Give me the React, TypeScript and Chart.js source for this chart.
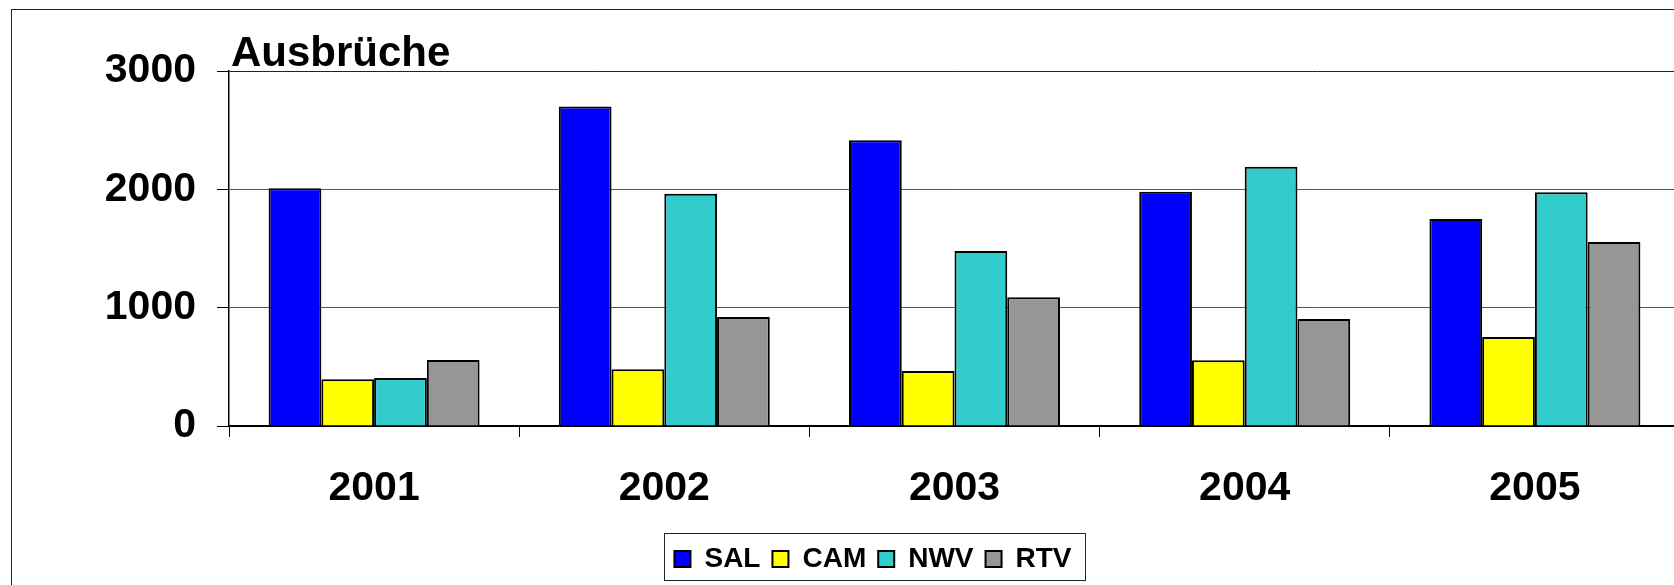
import React, { useEffect, useRef } from "react";
import { Chart, registerables } from "chart.js";

Chart.register(...registerables);

const years = ["2001", "2002", "2003", "2004", "2005"];
const seriesNames = ["SAL", "CAM", "NWV", "RTV"];
const salValues = [2010, 2700, 2415, 1980, 1750];
const camValues = [395, 480, 465, 555, 752];
const nwvValues = [405, 1962, 1478, 2190, 1976];
const rtvValues = [558, 921, 1087, 905, 1554];
const seriesColors = ["#0000FF", "#FFFF00", "#33CCCC", "#969696"];
const yMin = 0;
const yMax = 3000;
const yStep = 1000;
const chartTitle = "Ausbrüche";

const FONT = "'Liberation Sans', Arial, Helvetica, sans-serif";

export default function App() {
  const ref = useRef<HTMLCanvasElement>(null);

  useEffect(() => {
    const canvas = ref.current;
    if (!canvas) return;

    const framePlugin = {
      id: "frameAndTitle",
      beforeDraw(chart: any) {
        const ctx = chart.ctx;
        ctx.save();
        ctx.fillStyle = "#ffffff";
        ctx.fillRect(0, 0, chart.width, chart.height);
        ctx.strokeStyle = "#222222";
        ctx.lineWidth = 1;
        ctx.strokeRect(11.5, 9.5, 1724, 640);
        ctx.restore();
      },
      afterDraw(chart: any) {
        const ctx = chart.ctx;
        ctx.save();
        ctx.font = `bold 42px ${FONT}`;
        ctx.fillStyle = "#000000";
        ctx.textBaseline = "alphabetic";
        ctx.textAlign = "left";
        ctx.fillText(chartTitle, chart.chartArea.left + 2, chart.chartArea.top - 5);

        const lg = chart.legend;
        const hb = lg && lg.legendHitBoxes;
        if (hb && hb.length) {
          const l = hb[0].left - 10;
          const last = hb[hb.length - 1];
          const r = last.left + last.width + 14;
          ctx.strokeStyle = "#222222";
          ctx.lineWidth = 1;
          ctx.strokeRect(Math.round(l) + 0.5, Math.round(lg.top) + 0.5, Math.round(r - l), 47);
        }
        ctx.restore();
      },
    };

    const valueSets = [salValues, camValues, nwvValues, rtvValues];

    const chart = new Chart(canvas, {
      type: "bar",
      data: {
        labels: years,
        datasets: seriesNames.map((name, i) => ({
          label: name,
          data: valueSets[i],
          backgroundColor: seriesColors[i],
          borderColor: "#000000",
          borderWidth: 2,
          categoryPercentage: 0.727,
          barPercentage: 1.0,
        })),
      },
      options: {
        responsive: false,
        animation: false,
        color: "#000000",
        layout: { padding: { top: 71, left: 0, right: 0, bottom: 17 } },
        plugins: {
          title: { display: false },
          tooltip: { enabled: false },
          legend: {
            display: true,
            position: "bottom",
            align: "center",
            labels: {
              color: "#000000",
              font: { family: FONT, size: 28, weight: "bold" },
              boxWidth: 16,
              boxHeight: 16,
              padding: 12,
            },
          },
        },
        scales: {
          x: {
            type: "category",
            offset: true,
            grid: {
              display: true,
              offset: true,
              drawOnChartArea: false,
              drawTicks: true,
              tickLength: 11,
              tickColor: "#000000",
              color: "#000000",
            },
            border: { display: true, color: "#000000", width: 2 },
            ticks: {
              color: "#000000",
              font: { family: FONT, size: 41, weight: "bold" },
              padding: 27,
              autoSkip: false,
              maxRotation: 0,
              minRotation: 0,
            },
            afterFit: (s: any) => {
              s.height = 107;
            },
          },
          y: {
            type: "linear",
            position: "left",
            min: yMin,
            max: yMax,
            ticks: {
              stepSize: yStep,
              color: "#000000",
              font: { family: FONT, size: 41, weight: "bold" },
              padding: 21,
              callback: (v: any) => String(v),
            },
            grid: {
              display: true,
              drawTicks: true,
              tickLength: 12,
              tickColor: "#000000",
              color: (c: any) => (c.tick && c.tick.value === yMax ? "#222222" : "#555555"),
              lineWidth: 1,
            },
            border: { display: true, color: "#000000", width: 1.5 },
            afterFit: (s: any) => {
              s.width = 229;
            },
          },
          yRight: {
            type: "linear",
            position: "right",
            display: true,
            grid: { display: false, drawTicks: false },
            border: { display: false },
            ticks: { display: false },
            afterFit: (s: any) => {
              s.width = 66;
            },
          },
        },
      },
      plugins: [framePlugin],
    });

    return () => {
      chart.destroy();
    };
  }, []);

  return (
    <div
      style={{
        position: "absolute",
        left: 0,
        top: 0,
        width: 1674,
        height: 585,
        overflow: "hidden",
        background: "#ffffff",
      }}
    >
      <canvas
        ref={ref}
        width={1746}
        height={600}
        style={{ position: "absolute", left: 0, top: 0, width: 1746, height: 600 }}
      />
    </div>
  );
}
